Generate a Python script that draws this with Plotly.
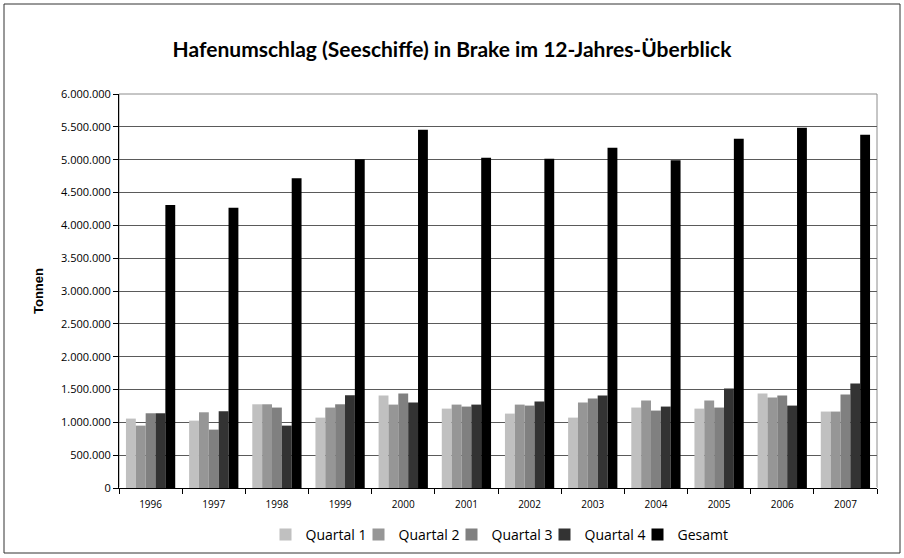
import plotly.graph_objects as go

years = ["1996", "1997", "1998", "1999", "2000", "2001", "2002", "2003", "2004", "2005", "2006", "2007"]
quartal1 = [1057000, 1026000, 1275000, 1072000, 1408000, 1209000, 1133000, 1072000, 1225000, 1209000, 1438000, 1164000]
quartal2 = [950000, 1153000, 1275000, 1225000, 1270000, 1270000, 1270000, 1301000, 1331000, 1331000, 1377000, 1164000]
quartal3 = [1138000, 889000, 1225000, 1275000, 1438000, 1240000, 1255000, 1362000, 1179000, 1225000, 1408000, 1423000]
quartal4 = [1138000, 1169000, 950000, 1413000, 1301000, 1270000, 1316000, 1408000, 1240000, 1514000, 1255000, 1590000]
gesamt = [4311000, 4266000, 4718000, 5008000, 5456000, 5028000, 5013000, 5181000, 4993000, 5318000, 5486000, 5379000]

series = [
    ("Quartal 1", quartal1, "#c0c0c0"),
    ("Quartal 2", quartal2, "#969696"),
    ("Quartal 3", quartal3, "#808080"),
    ("Quartal 4", quartal4, "#333333"),
    ("Gesamt", gesamt, "#000000"),
]

fig = go.Figure()
for name, vals, col in series:
    fig.add_trace(go.Bar(x=years, y=vals, name=name, marker=dict(color=col, line=dict(width=0))))

W, H = 904, 558
L, R, T, B = 119, 27, 94, 70
pw, ph = W - L - R, H - T - B

fig.update_layout(
    width=W, height=H,
    margin=dict(l=L, r=R, t=T, b=B, autoexpand=False),
    paper_bgcolor="white", plot_bgcolor="white",
    barmode="group", bargap=0.22, bargroupgap=0,
    separators=",.",
    font=dict(family="Lato, 'Open Sans', sans-serif", color="#000"),
    title=dict(text="<b>Hafenumschlag (Seeschiffe) in Brake im 12-Jahres-Überblick</b>",
               x=0.5, xanchor="center", y=1 - 50 / H, yanchor="middle",
               font=dict(size=21, family="Lato, 'Open Sans', sans-serif", color="#000")),
    legend=dict(orientation="h", x=0.5, xanchor="center", y=-(535 - (T + ph)) / ph, yanchor="middle",
                font=dict(size=14, family="'Open Sans', Lato, sans-serif"),
                itemwidth=30, entrywidth=48, entrywidthmode="pixels", traceorder="normal"),
    xaxis=dict(type="category", showgrid=False, showline=True, linecolor="#000", linewidth=1,
               ticks="outside", tickson="boundaries", ticklen=5, tickcolor="#000",
               ticklabelstandoff=7,
               tickfont=dict(size=10, family="'Open Sans', Lato, sans-serif"), automargin=False),
    yaxis=dict(range=[0, 6000000], dtick=500000, tickformat=",d",
               showgrid=True, gridcolor="#5a5a5a", gridwidth=1,
               showline=True, linecolor="#000", linewidth=1,
               ticks="outside", ticklen=5, tickcolor="#000", automargin=False,
               tickfont=dict(size=11, family="'Open Sans', Lato, sans-serif"),
               title=dict(text="<b>Tonnen</b>", font=dict(size=13, family="Liberation Sans, Arial, sans-serif"), standoff=14)),
    shapes=[
        dict(type="rect", xref="paper", yref="paper", x0=0, x1=1, y0=0, y1=1,
             line=dict(color="#8c8c8c", width=1), layer="below"),
        dict(type="rect", xref="paper", yref="paper",
             x0=(4 - L) / pw, x1=(900 - L) / pw, y0=-(553 - T - ph) / ph, y1=1 + (T - 4) / ph,
             line=dict(color="#333", width=1), layer="below"),
    ],
)

fig.write_html("out.html", config={"displayModeBar": False},
               post_script="document.body.style.margin='0';document.body.style.overflow='hidden';")
